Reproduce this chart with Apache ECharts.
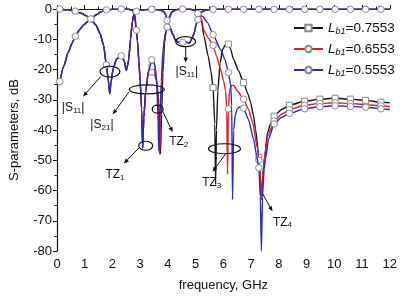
<!DOCTYPE html>
<html><head><meta charset="utf-8">
<script src="https://cdn.jsdelivr.net/npm/echarts@6/dist/echarts.min.js"></script>
<style>html,body{margin:0;padding:0;background:#fff}#c{width:400px;height:297px}</style>
</head><body><div id="c"></div>
<script>
// frequencies (GHz) where the curves carry markers
const MARK_F = [0.1,0.66,1.22,1.78,2.32,2.86,3.42,3.97,4.53,5.08,5.63,6.18,6.73,7.28,7.83,8.38,8.93,9.48,10.03,10.58,11.13,11.68];

// |S11| (dB), nearly identical for the three L_b1 values
const S11 = [[0.1,0],[0.4,-0.3],[0.66,-0.7],[0.9,-1.5],[1.05,-2.2],[1.22,-3.3],[1.4,-5.3],[1.55,-8],[1.68,-12],[1.78,-18.5],[1.85,-23.5],[1.9,-28],[1.95,-24],[2.03,-19.5],[2.15,-16.5],[2.32,-15.5],[2.42,-17],[2.5,-20.3],[2.55,-18.5],[2.59,-16.5],[2.65,-10],[2.72,-4],[2.77,-1.8],[2.86,-0.8],[3.0,-0.4],[3.2,-0.2],[3.42,-0.1],[3.7,-0.3],[3.85,-0.8],[3.92,-2],[3.97,-3.8],[4.05,-5.5],[4.17,-8.2],[4.28,-10.5],[4.4,-11.1],[4.53,-11],[4.65,-11],[4.78,-11.2],[4.88,-9.5],[4.95,-7.8],[5.02,-5],[5.08,-3.5],[5.15,-1.8],[5.25,-0.7],[5.4,-0.3],[5.63,-0.1],[6.18,-0.1],[6.73,-0.1],[7.28,-0.1],[7.83,-0.1],[8.38,-0.1],[8.93,-0.1],[9.48,-0.1],[10.03,-0.1],[10.58,-0.1],[11.13,-0.1],[11.68,-0.1],[12,-0.1]];

// |S21| (dB), common lower part
const S21_LOW = [[0.1,-24],[0.25,-18.8],[0.4,-14.4],[0.55,-11.2],[0.66,-9],[0.8,-7],[0.97,-5.2],[1.1,-4.2],[1.22,-3.3],[1.4,-2],[1.58,-1],[1.78,-0.3],[2.0,-0.1],[2.32,0],[2.6,-0.1],[2.72,-0.5],[2.8,-1.8],[2.86,-7],[2.9,-10.5],[2.95,-17],[3.0,-24],[3.05,-33],[3.09,-46],[3.13,-36],[3.2,-27],[3.3,-20.5]];

// |S21| (dB), upper part for each L_b1
const S21_BLACK = [[3.42,-20.8],[3.5,-21],[3.6,-24],[3.67,-31],[3.71,-40],[3.73,-48],[3.77,-35],[3.82,-21],[3.88,-11],[3.93,-7.5],[3.97,-6.5],[4.05,-3],[4.15,-1],[4.3,-0.2],[4.53,0],[4.8,-0.1],[4.95,-0.4],[5.08,-1.2],[5.2,-3.5],[5.3,-9],[5.45,-15.5],[5.55,-20.5],[5.63,-26],[5.69,-38],[5.72,-58],[5.75,-40],[5.8,-27],[5.88,-18],[5.97,-13.4],[6.08,-11.7],[6.18,-11.6],[6.25,-13],[6.37,-16.7],[6.55,-20.5],[6.73,-24.3],[6.88,-28],[6.98,-30.8],[7.08,-35],[7.16,-39.7],[7.28,-49],[7.33,-56],[7.37,-63],[7.42,-55],[7.48,-49.5],[7.59,-41],[7.7,-38],[7.83,-35.4],[8.1,-33.2],[8.38,-31.8],[8.93,-30.5],[9.48,-29.8],[10.03,-29.5],[10.58,-29.8],[11.13,-30.2],[11.68,-30.8],[12,-31]];
const S21_RED = [[3.42,-19],[3.5,-19.5],[3.58,-23],[3.64,-30],[3.68,-40],[3.7,-48],[3.74,-36],[3.79,-22],[3.85,-12],[3.91,-8],[3.97,-6.2],[4.05,-2.7],[4.15,-0.9],[4.3,-0.2],[4.53,0],[4.8,-0.1],[4.95,-0.3],[5.08,-1],[5.2,-3],[5.29,-6.9],[5.45,-9.5],[5.63,-12],[5.75,-15.5],[5.9,-20],[6.0,-23.5],[6.08,-27],[6.12,-33],[6.15,-54.7],[6.18,-33],[6.22,-27],[6.3,-25.2],[6.38,-25.3],[6.5,-27],[6.73,-29.8],[6.9,-33],[7.05,-37.4],[7.23,-46],[7.28,-50],[7.33,-56],[7.37,-63],[7.42,-55],[7.5,-48],[7.6,-42],[7.83,-37],[8.1,-34.8],[8.38,-33.3],[8.93,-31.8],[9.48,-31.2],[10.03,-31],[10.58,-31.2],[11.13,-31.6],[11.68,-32],[12,-32.3]];
const S21_BLUE = [[3.42,-16.8],[3.5,-17.5],[3.56,-20],[3.6,-25],[3.64,-35],[3.67,-47],[3.71,-36],[3.76,-24],[3.82,-14],[3.88,-9.5],[3.93,-7.5],[3.97,-6],[4.05,-2.5],[4.15,-0.8],[4.3,-0.2],[4.53,0],[4.8,-0.1],[4.95,-0.3],[5.08,-1.5],[5.25,-2.5],[5.43,-4.5],[5.63,-8.5],[5.9,-13.4],[6.05,-16.5],[6.18,-21],[6.26,-25],[6.3,-32],[6.33,-63],[6.37,-40],[6.43,-35],[6.5,-33],[6.6,-32.3],[6.73,-32.8],[6.9,-36.4],[7.09,-43],[7.2,-48.5],[7.28,-52.5],[7.33,-62],[7.37,-80],[7.41,-62],[7.47,-53],[7.52,-49.5],[7.63,-43],[7.83,-38],[8.1,-35.8],[8.38,-34.5],[8.93,-33],[9.48,-32.3],[10.03,-32],[10.58,-32.2],[11.13,-32.5],[11.68,-33],[12,-33.2]];

const LB1 = ['0.7553','0.6553','0.5553'];

// annotations (data coordinates)
const ANN_ELLIPSES = [[1.91,-20.7,10,5.5],[3.24,-26.6,17.5,4.5],[3.63,-33.1,5.5,4],[3.2,-45.2,7,4.5],[4.64,-10.8,10,5],[6.04,-46.2,16,5]];
const ANN_ARROWS = [[1.58,-22.3,0.94,-28.9],[2.59,-27.5,2.01,-34.8],[3.81,-33.8,4.17,-40.7],[2.99,-45.6,2.41,-51.1],[4.64,-12.5,4.64,-17.7],[6.08,-47.9,5.61,-53.8],[7.41,-61,7.77,-66.9]];
const ANN_LABELS = [['|S{s|11}|',0.58,-32.5],['|S{s|21}|',1.62,-38.4],['TZ{s|2}',4.39,-43.9],['TZ{s|1}',2.09,-54.8],['|S{s|11}|',4.68,-20.7],['TZ{s|3}',5.58,-57.4],['TZ{s|4}',8.13,-70.5]];

const COLORS = ['#161616','#e0201c','#2828cc'];
const SYMS = ['rect','circle','circle'];
const SIZES = [6, 6.5, 6.5];
const S21_ALL = [S21_LOW.concat(S21_BLACK), S21_LOW.concat(S21_RED), S21_LOW.concat(S21_BLUE)];
const CURVES = S21_ALL.map(s => [S11, s]);

const FONT = 'Liberation Sans, Arial, sans-serif';
const chart = echarts.init(document.getElementById('c'));
const series = [];
const MK = {color:'#fff', borderColor:'#8a8a8a', borderWidth:1};
LB1.forEach((v, i) => {
  series.push({type:'line', name:v, data:[], symbol:SYMS[i], symbolSize:SIZES[i],
    lineStyle:{color:COLORS[i], width:1.4}, itemStyle:MK});
});
// value of the top (blue) curve at a given f, to hide markers that sit under blue ones
const topVal = (k, f) => { const p = CURVES[2][k].find(q => q[0] === f); return p ? p[1] : null; };
LB1.forEach((v, i) => {
  CURVES[i].forEach((d, k) => {
    const symFn = (val) => {
      if (MARK_F.indexOf(val[0]) < 0) return 'none';
      if (i < 2) { const t = topVal(k, val[0]); if (t !== null && Math.abs(t - val[1]) < 1) return 'none'; }
      return SYMS[i];
    };
    series.push({type:'line', name:'c'+i+'_'+k, data:d, smooth:0.2, smoothMonotone:'x',
      showSymbol:true, showAllSymbol:true, symbol:symFn, symbolSize:SIZES[i], z:2+i,
      lineStyle:{color:COLORS[i], width:1.4}, itemStyle:MK});
  });
});

chart.setOption({
  animation:false,
  grid:{left:56, right:10, top:9, bottom:44},
  legend:{data:LB1, orient:'vertical', left:288, top:15, itemWidth:29, itemHeight:8, itemGap:5,
    formatter: n => '{i|L}{s|b1}{n|=' + n + '}',
    textStyle:{padding:[0,0,0,0], rich:{
      i:{fontFamily:FONT, fontSize:13.5, fontStyle:'italic', color:'#111', lineHeight:16},
      s:{fontFamily:FONT, fontSize:9, fontStyle:'italic', color:'#111', lineHeight:16, verticalAlign:'bottom', padding:[7,0,0,0]},
      n:{fontFamily:FONT, fontSize:13.5, color:'#111', lineHeight:16}}}},
  xAxis:{type:'value', min:0, max:12, interval:1, name:'frequency, GHz', nameLocation:'middle', nameGap:28,
    nameTextStyle:{fontFamily:FONT, fontSize:13, color:'#111'},
    axisLine:{lineStyle:{color:'#111', width:1.2}}, axisTick:{inside:true, length:4, lineStyle:{color:'#111'}},
    minorTick:{show:true, splitNumber:2, length:2.5, lineStyle:{color:'#111'}},
    axisLabel:{fontFamily:FONT, fontSize:13, color:'#111', margin:7}, splitLine:{show:false}},
  yAxis:{type:'value', min:-80, max:0, interval:10, name:'S-parameters, dB', nameLocation:'middle', nameGap:36,
    nameTextStyle:{fontFamily:FONT, fontSize:13, color:'#111'},
    axisLine:{lineStyle:{color:'#111', width:1.2}}, axisTick:{inside:false, length:4, lineStyle:{color:'#111'}},
    minorTick:{show:true, splitNumber:2, length:2.5, lineStyle:{color:'#111'}},
    axisLabel:{fontFamily:FONT, fontSize:13, color:'#111', margin:5}, splitLine:{show:false}},
  series: series
});

const P = (f, d) => chart.convertToPixel({gridIndex:0}, [f, d]);
const g = [];
ANN_ELLIPSES.forEach(e => {
  const p = P(e[0], e[1]);
  g.push({type:'ellipse', shape:{cx:p[0], cy:p[1], rx:e[2], ry:e[3]}, style:{fill:'none', stroke:'#111', lineWidth:1.2}, z:100});
});
ANN_ARROWS.forEach(a => {
  const p1 = P(a[0], a[1]), p2 = P(a[2], a[3]);
  const dx = p2[0]-p1[0], dy = p2[1]-p1[1], L = Math.hypot(dx, dy), ux = dx/L, uy = dy/L;
  const hl = 5, hw = 2.2;
  const bx = p2[0]-ux*hl, by = p2[1]-uy*hl;
  g.push({type:'line', shape:{x1:p1[0], y1:p1[1], x2:bx, y2:by}, style:{stroke:'#111', lineWidth:1}, z:100});
  g.push({type:'polygon', shape:{points:[[p2[0],p2[1]],[bx-uy*hw,by+ux*hw],[bx+uy*hw,by-ux*hw]]}, style:{fill:'#111'}, z:100});
});
ANN_LABELS.forEach(l => {
  const p = P(l[1], l[2]);
  g.push({type:'text', x:p[0], y:p[1], z:100, style:{text:l[0], align:'center', verticalAlign:'middle',
    fontFamily:FONT, fontSize:12, fill:'#111',
    rich:{s:{fontFamily:FONT, fontSize:8, fill:'#111', padding:[6,0,0,0]}}}});
});
chart.setOption({graphic:g});
</script></body></html>
